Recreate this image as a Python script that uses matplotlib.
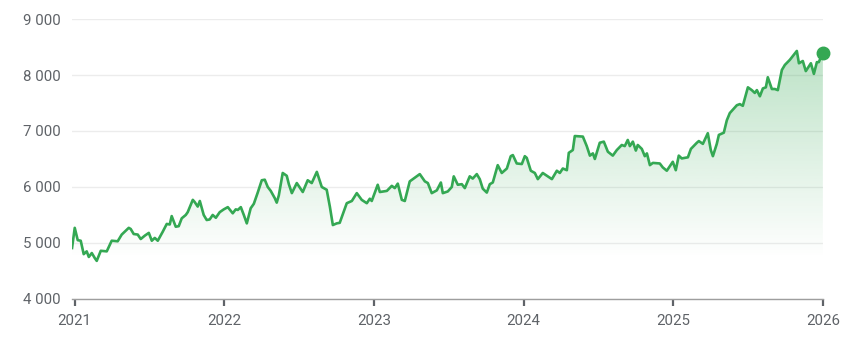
import matplotlib
matplotlib.use("Agg")
import matplotlib.pyplot as plt
from matplotlib.ticker import FuncFormatter
import numpy as np

plt.rcParams['font.family'] = ['Roboto', 'DejaVu Sans']

# time as decimal years
years = [
    2020.982, 2021.000, 2021.020, 2021.040, 2021.060, 2021.080, 2021.094, 2021.114, 2021.134, 2021.147,
    2021.174, 2021.214, 2021.247, 2021.287, 2021.314, 2021.361, 2021.374, 2021.394, 2021.421, 2021.441,
    2021.468, 2021.495, 2021.515, 2021.535, 2021.555, 2021.588, 2021.615, 2021.635, 2021.648, 2021.675,
    2021.695, 2021.715, 2021.742, 2021.755, 2021.789, 2021.802, 2021.822, 2021.836, 2021.862, 2021.882,
    2021.902, 2021.922, 2021.943, 2021.969, 2021.996, 2022.023, 2022.056, 2022.076, 2022.090, 2022.110,
    2022.130, 2022.150, 2022.176, 2022.197, 2022.223, 2022.250, 2022.270, 2022.290, 2022.310, 2022.337,
    2022.350, 2022.364, 2022.390, 2022.417, 2022.431, 2022.451, 2022.484, 2022.524, 2022.557, 2022.584,
    2022.618, 2022.651, 2022.684, 2022.705, 2022.725, 2022.751, 2022.771, 2022.818, 2022.852, 2022.885,
    2022.918, 2022.952, 2022.972, 2022.985, 2023.025, 2023.039, 2023.086, 2023.119, 2023.139, 2023.159,
    2023.186, 2023.206, 2023.239, 2023.286, 2023.306, 2023.340, 2023.360, 2023.386, 2023.420, 2023.447,
    2023.460, 2023.493, 2023.520, 2023.533, 2023.560, 2023.587, 2023.607, 2023.640, 2023.660, 2023.687,
    2023.707, 2023.727, 2023.754, 2023.774, 2023.794, 2023.827, 2023.854, 2023.888, 2023.914, 2023.928,
    2023.954, 2023.988, 2024.008, 2024.021, 2024.048, 2024.075, 2024.095, 2024.128, 2024.189, 2024.222,
    2024.242, 2024.262, 2024.289, 2024.302, 2024.329, 2024.342, 2024.396, 2024.422, 2024.443, 2024.463,
    2024.476, 2024.509, 2024.536, 2024.563, 2024.596, 2024.623, 2024.656, 2024.676, 2024.696, 2024.710,
    2024.730, 2024.750, 2024.763, 2024.790, 2024.810, 2024.824, 2024.844, 2024.864, 2024.910, 2024.930,
    2024.957, 2024.997, 2025.017, 2025.037, 2025.057, 2025.098, 2025.118, 2025.158, 2025.171, 2025.198,
    2025.231, 2025.251, 2025.265, 2025.291, 2025.305, 2025.338, 2025.358, 2025.378, 2025.425, 2025.445,
    2025.465, 2025.499, 2025.525, 2025.545, 2025.559, 2025.579, 2025.599, 2025.619, 2025.632, 2025.659,
    2025.679, 2025.699, 2025.726, 2025.746, 2025.779, 2025.826, 2025.840, 2025.866, 2025.886, 2025.920,
    2025.940, 2025.960, 2025.973, 2026.000,
]
values = [
    4910, 5270, 5050, 5040, 4800, 4850, 4750, 4820, 4730, 4680,
    4860, 4850, 5040, 5030, 5150, 5270, 5250, 5160, 5150, 5070,
    5130, 5180, 5040, 5090, 5040, 5200, 5340, 5330, 5480, 5290,
    5300, 5440, 5500, 5550, 5770, 5730, 5650, 5750, 5500, 5410,
    5420, 5500, 5450, 5550, 5600, 5640, 5530, 5600, 5590, 5640,
    5500, 5350, 5620, 5700, 5900, 6120, 6130, 6000, 5930, 5800,
    5720, 5850, 6250, 6200, 6050, 5890, 6070, 5910, 6120, 6070,
    6270, 6000, 5950, 5650, 5320, 5350, 5360, 5710, 5750, 5890,
    5770, 5710, 5790, 5750, 6040, 5910, 5930, 6020, 5980, 6060,
    5770, 5750, 6100, 6190, 6230, 6100, 6070, 5890, 5940, 6080,
    5890, 5920, 6000, 6190, 6040, 6050, 5980, 6190, 6150, 6230,
    6140, 5970, 5900, 6050, 6080, 6390, 6250, 6330, 6550, 6570,
    6420, 6410, 6550, 6520, 6290, 6250, 6140, 6250, 6140, 6290,
    6250, 6330, 6300, 6610, 6660, 6910, 6900, 6730, 6560, 6600,
    6500, 6790, 6810, 6630, 6560, 6660, 6750, 6730, 6840, 6730,
    6810, 6650, 6750, 6680, 6550, 6600, 6390, 6430, 6420, 6350,
    6290, 6450, 6300, 6560, 6510, 6530, 6680, 6790, 6820, 6770,
    6960, 6660, 6550, 6770, 6930, 6970, 7190, 7320, 7460, 7480,
    7450, 7780, 7730, 7680, 7730, 7620, 7760, 7780, 7960, 7750,
    7750, 7730, 8090, 8180, 8270, 8430, 8210, 8250, 8070, 8210,
    8020, 8230, 8230, 8400,
]
year_ticks = [2021, 2022, 2023, 2024, 2025, 2026]
value_ticks = [4000, 5000, 6000, 7000, 8000, 9000]

GREEN = '#34a853'
TEXT = '#5f6368'

fig = plt.figure(figsize=(8.68, 3.46), dpi=100)
ax = fig.add_axes([0.083, 0.136, 0.865, 0.809])

x = np.array(years)
y = np.array(values)
fill_floor = 4730

# gradient fill under the line
poly = ax.fill_between(x, y, fill_floor, color='none', lw=0)
grad = np.zeros((256, 1, 4))
grad[:, 0, 0:3] = matplotlib.colors.to_rgb(GREEN)
grad[:, 0, 3] = np.linspace(0.38, 0.0, 256)
img = ax.imshow(grad, extent=[x[0], x[-1], fill_floor, 9000], aspect='auto',
                origin='upper', zorder=1)
path = poly.get_paths()[0]
img.set_clip_path(path, transform=ax.transData)

ax.plot(x, y, color=GREEN, lw=1.9, zorder=3, solid_joinstyle='round')
ax.plot([x[-1]], [y[-1]], 'o', color=GREEN, ms=9, zorder=4, clip_on=False)

ax.set_xlim(x[0], 2026.0)
ax.set_ylim(4000, 9000)
ax.set_xticks(year_ticks)
ax.set_xticklabels([str(t) for t in year_ticks])
ax.set_yticks(value_ticks)
ax.yaxis.set_major_formatter(FuncFormatter(lambda v, _: f"{v:,.0f}".replace(",", " ")))

ax.grid(True, axis='y', color='#ececec', lw=1)
ax.set_axisbelow(True)
for side in ['top', 'right', 'left']:
    ax.spines[side].set_visible(False)
ax.spines['bottom'].set_color('#9e9e9e')
ax.spines['bottom'].set_linewidth(1)
ax.tick_params(axis='y', length=0, pad=8, labelsize=10.8, labelcolor=TEXT)
ax.tick_params(axis='x', length=5, width=1.6, color=TEXT, pad=6, labelsize=10.8, labelcolor=TEXT)

fig.savefig('out.png', dpi=100, facecolor='white')
